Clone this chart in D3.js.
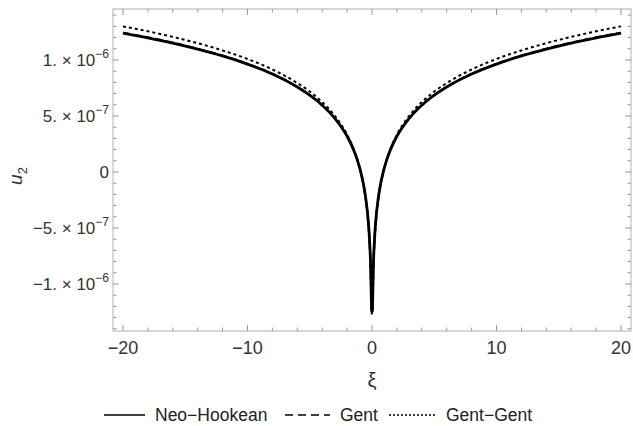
<!DOCTYPE html>
<html>
<head>
<meta charset="utf-8">
<script src="https://cdn.jsdelivr.net/npm/d3@7"></script>
<style>
body { margin: 0; background: #fff; }
text { font-family: "Liberation Sans", Arial, sans-serif; }
</style>
</head>
<body>
<div id="chart"></div>
<script>
var xi = [-20,-18,-16,-14,-12,-10,-8,-6,-5,-4,-3,-2,-1.5,-1,-0.7,-0.5,-0.3,-0.2,-0.1,-0.05,0,
          0.05,0.1,0.2,0.3,0.5,0.7,1,1.5,2,3,4,5,6,8,10,12,14,16,18,20];
// values in units of 1e-6
var neoHalf  = [1.240,1.198,1.151,1.097,1.036,0.963,0.874,0.758,0.685,0.596,0.481,0.319,0.204,0.042,-0.101,-0.236,-0.440,-0.602,-0.879,-1.156];
var gentHalf = [1.244,1.202,1.155,1.100,1.039,0.966,0.876,0.760,0.686,0.597,0.481,0.318,0.203,0.040,-0.104,-0.240,-0.446,-0.610,-0.890,-1.175];
var ggHalf   = [1.300,1.256,1.206,1.150,1.085,1.009,0.915,0.794,0.718,0.624,0.503,0.333,0.212,0.042,-0.108,-0.249,-0.464,-0.634,-0.925,-1.216];
var tips = [-1.25, -1.28, -1.24];

var seriesNames = ["Neo\u2212Hookean", "Gent", "Gent\u2212Gent"];
var dashes = [null, "7,4", "3,3"];
var widths = [2.8, 2.0, 2.0];

var xTicks = [-20,-10,0,10,20];
var xTickLabels = ["\u221220","\u221210","0","10","20"];
var yTicks = [-1e-6,-5e-7,0,5e-7,1e-6];
var yTickMant = ["\u22121.","\u22125.","0","5.","1."];
var yTickExp = ["\u22126","\u22127","","\u22127","\u22126"];

function mirror(half, tip) {
	var out = half.slice();
	out.push(tip);
	for (var i = half.length - 1; i >= 0; i--) out.push(half[i]);
	return out;
}
var allSeries = [mirror(neoHalf, tips[0]), mirror(gentHalf, tips[1]), mirror(ggHalf, tips[2])];

var W = 633, H = 426;
var pLeft = 113, pRight = 631, pTop = 9, pBottom = 331;

var svg = d3.select("#chart").append("svg").attr("width", W).attr("height", H);

var x = d3.scaleLinear().domain([-20.8, 20.8]).range([pLeft, pRight]);
var y = d3.scaleLinear().domain([-1.42e-6, 1.455e-6]).range([pBottom, pTop]);

// frame
svg.append("rect")
	.attr("x", pLeft).attr("y", pTop)
	.attr("width", pRight - pLeft).attr("height", pBottom - pTop)
	.attr("fill", "none").attr("stroke", "#b0b0b0").attr("stroke-width", 1);

// minor/major ticks on all sides
var xMinor = d3.range(-20, 21, 2);
var yMinor = d3.range(-14, 15, 1).map(function(d){ return d * 1e-7; });
var tickCol = "#999";
xMinor.forEach(function(v) {
	var major = xTicks.indexOf(v) >= 0;
	var len = major ? 6 : 3.5;
	svg.append("line").attr("x1", x(v)).attr("x2", x(v)).attr("y1", pBottom).attr("y2", pBottom - len)
		.attr("stroke", tickCol).attr("stroke-width", 1);
	svg.append("line").attr("x1", x(v)).attr("x2", x(v)).attr("y1", pTop).attr("y2", pTop + len)
		.attr("stroke", tickCol).attr("stroke-width", 1);
});
yMinor.forEach(function(v) {
	var major = Math.abs(Math.round(v * 1e7)) % 5 == 0;
	var len = major ? 6 : 3.5;
	svg.append("line").attr("x1", pLeft).attr("x2", pLeft + len).attr("y1", y(v)).attr("y2", y(v))
		.attr("stroke", tickCol).attr("stroke-width", 1);
	svg.append("line").attr("x1", pRight).attr("x2", pRight - len).attr("y1", y(v)).attr("y2", y(v))
		.attr("stroke", tickCol).attr("stroke-width", 1);
});

// x tick labels
xTicks.forEach(function(v, i) {
	svg.append("text").text(xTickLabels[i])
		.attr("x", x(v)).attr("y", pBottom + 23)
		.attr("text-anchor", "middle").attr("fill", "#333").style("font-size", "18px");
});

// y tick labels
yTicks.forEach(function(v, i) {
	var t = svg.append("text")
		.attr("x", pLeft - 4).attr("y", y(v) + 6)
		.attr("text-anchor", "end").attr("fill", "#333").style("font-size", "17px");
	if (yTickExp[i] == "") {
		t.text(yTickMant[i]);
	} else {
		t.append("tspan").text(yTickMant[i] + " \u00d7 10");
		t.append("tspan").text(yTickExp[i]).attr("dy", -8).style("font-size", "12px");
	}
});

// axis labels
svg.append("text").text("\u03be")
	.attr("x", x(0)).attr("y", 387)
	.attr("text-anchor", "middle").attr("fill", "#333").style("font-size", "20px");
var yl = svg.append("text")
	.attr("transform", "translate(22,176) rotate(-90)")
	.attr("text-anchor", "middle").attr("fill", "#333").style("font-size", "19px");
yl.append("tspan").text("u").style("font-style", "italic");
yl.append("tspan").text("2").attr("dy", 5).style("font-size", "13px");

// curves
var line = d3.line()
	.x(function(d, i){ return x(xi[i]); })
	.y(function(d){ return y(d * 1e-6); })
	.curve(d3.curveMonotoneX);

var plot = svg.append("g");
allSeries.forEach(function(s, k) {
	plot.append("path").datum(s)
		.attr("d", line)
		.attr("fill", "none")
		.attr("stroke", "#000")
		.attr("stroke-width", widths[k])
		.attr("stroke-dasharray", dashes[k]);
});

// legend
var legX = [104, 285, 389];
var legLen = [41, 45, 47];
var legY = 415;
seriesNames.forEach(function(n, k) {
	svg.append("line")
		.attr("x1", legX[k]).attr("x2", legX[k] + legLen[k])
		.attr("y1", legY).attr("y2", legY)
		.attr("stroke", "#000").attr("stroke-width", k == 0 ? 1.6 : 1.4)
		.attr("stroke-dasharray", k == 0 ? null : (k == 1 ? "8,5" : "2,2"));
	svg.append("text").text(n)
		.attr("x", legX[k] + legLen[k] + 10).attr("y", legY + 6)
		.attr("fill", "#222").style("font-size", "17.5px");
});
</script>
</body>
</html>
